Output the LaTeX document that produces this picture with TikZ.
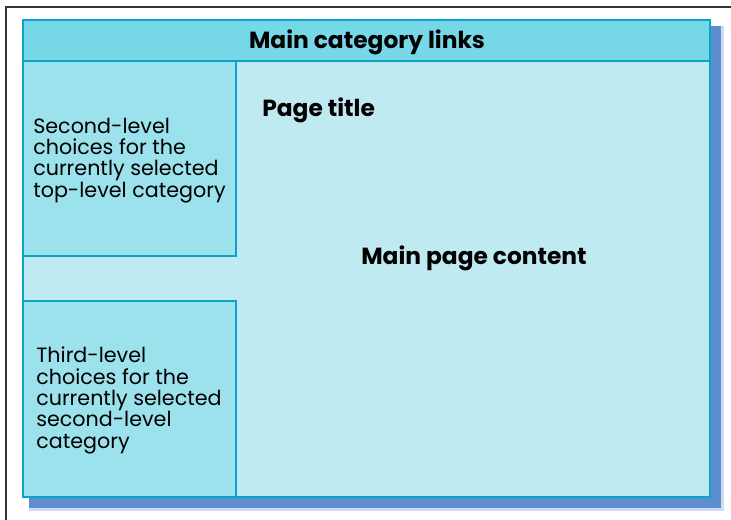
\documentclass[tikz,border=0pt]{standalone}
\usepackage{fontspec}
\setmainfont{Poppins}
\usetikzlibrary{calc}
\definecolor{frameblue}{HTML}{0BA3C7}
\definecolor{headfill}{HTML}{76D7E6}
\definecolor{sidefill}{HTML}{9CE2EC}
\definecolor{pagefill}{HTML}{C0EAF1}
\definecolor{shadowfill}{HTML}{93B3CF}
\definecolor{shadowedge}{HTML}{5D8FD0}
\tikzset{
  box/.style={draw=frameblue, line width=2pt},
  boldtext/.style={font=\fontsize{17.5}{20}\selectfont\bfseries, inner sep=0pt},
  sidetext/.style={font=\fontsize{15.5}{16}\selectfont, align=left, inner sep=0pt, anchor=north west}
}

\begin{document}
\begin{tikzpicture}[x=0.75pt, y=-0.75pt]
			%%%%% START %%%%%
			\useasboundingbox (0,0) rectangle (731,520);
			
			% outer frame
			\draw[color=black!80, line width=0.9pt] (6,520) -- (6,7) -- (731,7);
			
			% shadow
			\draw[color=shadowedge!30, line width=4pt] (32,29) rectangle (721,508);
			\draw[fill=shadowfill, color=shadowedge, line width=2.4pt] (31,28) rectangle (719,506);
			
			% page
			\draw[box, fill=pagefill] (23,20) rectangle (710,497);
			\draw[box, fill=headfill] (23,20) rectangle (710,61);
			\draw[box, fill=sidefill] (23,61) rectangle (236,256);
			\draw[box, fill=sidefill] (23,301) rectangle (236,497);
			
			% texts
			\node[boldtext, anchor=base] (links) at (367,49) {Main category links};
			\node[boldtext, anchor=base west] (title) at (262,117) {Page title};
			\node[boldtext, anchor=base west] (content) at (361,264) {Main page content};
			\node[sidetext] (second) at (33,117.5) {Second-level\\choices for the\\currently selected\\top-level category};
			\node[sidetext] (third) at (36,347) {Third-level\\choices for the\\currently selected\\second-level\\category};
			%%%%% END %%%%%
\end{tikzpicture}
\end{document}
